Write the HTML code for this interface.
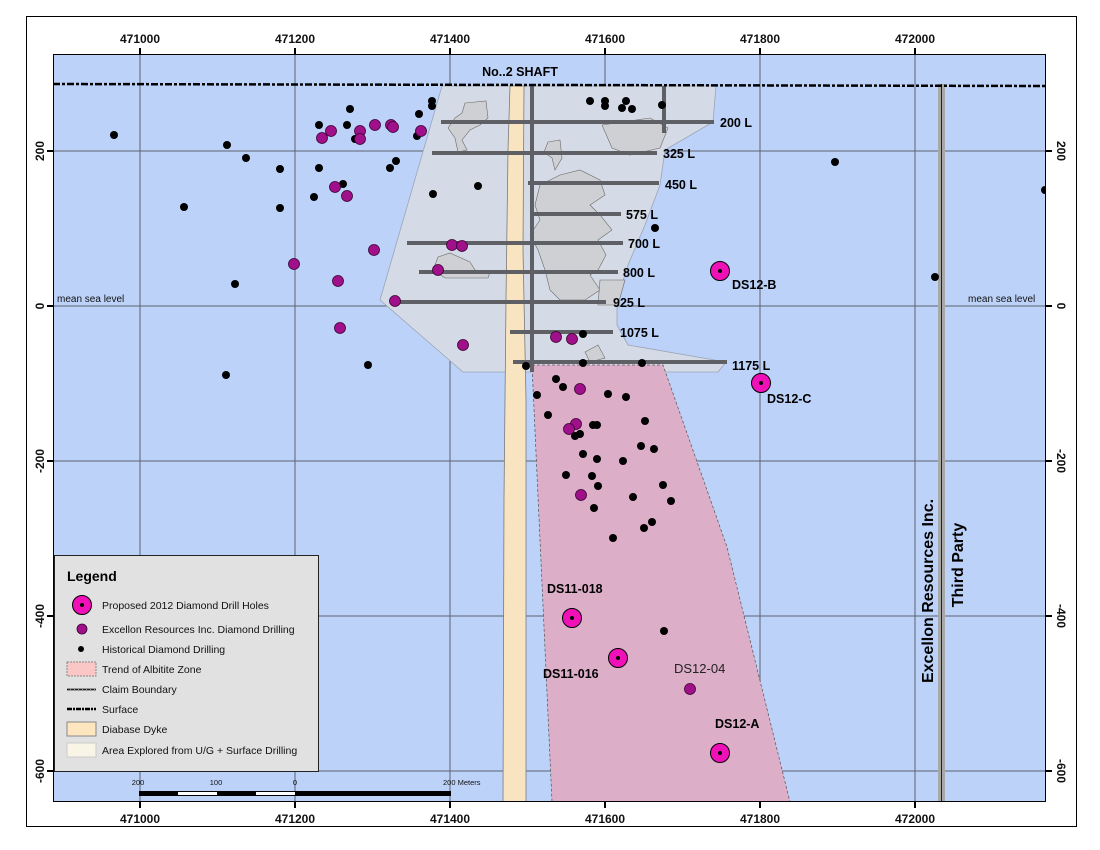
<!DOCTYPE html>
<html><head><meta charset="utf-8"><style>
html,body{margin:0;padding:0;background:#fff;}
svg{display:block;font-family:"Liberation Sans",sans-serif;}
</style></head><body>
<svg width="1100" height="850" viewBox="0 0 1100 850" xmlns="http://www.w3.org/2000/svg">
<rect x="0" y="0" width="1100" height="850" fill="#fff"/>
<rect x="26.5" y="16.5" width="1050" height="810" fill="#fff" stroke="#000" stroke-width="1"/>
<defs><clipPath id="c"><rect x="53" y="54" width="993" height="748"/></clipPath></defs>
<rect x="53" y="54" width="993" height="748" fill="#bdd2f8"/>
<g clip-path="url(#c)">
<g stroke="#5c6270" stroke-width="1">
<line x1="140" y1="54" x2="140" y2="802"/><line x1="295" y1="54" x2="295" y2="802"/>
<line x1="450" y1="54" x2="450" y2="802"/><line x1="605" y1="54" x2="605" y2="802"/>
<line x1="760" y1="54" x2="760" y2="802"/><line x1="915" y1="54" x2="915" y2="802"/>
<line x1="53" y1="151" x2="1046" y2="151"/><line x1="53" y1="306" x2="1046" y2="306"/>
<line x1="53" y1="461" x2="1046" y2="461"/><line x1="53" y1="616" x2="1046" y2="616"/>
<line x1="53" y1="771" x2="1046" y2="771"/>
</g>
<polygon points="442,86 716,86 713,122 665,150 660,185 645,225 628,265 617,300 617,325 628,345 726,362 718,372 463,372 380,300" fill="#d5dbe6" stroke="#9aa4b8" stroke-width="0.8"/>
<polygon points="532,365 663,365 727,547 790,802 552,802" fill="#dcaec8" stroke="#555" stroke-width="0.7" stroke-dasharray="3,2"/>
<g fill="#cfd0d3" stroke="#6a6a6a" stroke-width="0.6">
<polygon points="465,103 486,101 488,118 480,125 470,130 462,140 467,150 458,152 455,138 448,128 455,118 462,113"/>
<polygon points="548,142 560,140 562,158 555,170 552,158 544,152"/>
<polygon points="602,125 650,118 668,128 660,148 630,155 612,148"/>
<polygon points="540,185 560,175 580,170 600,180 605,195 590,205 600,215 612,230 598,240 606,255 598,270 590,275 600,290 585,300 560,300 550,290 545,270 538,250 530,235 540,220 535,205"/>
<polygon points="600,280 625,280 618,305 598,305"/>
<polygon points="438,257 450,253 470,262 475,270 490,272 488,278 445,278 433,270"/>
<polygon points="585,352 598,345 605,358 590,362"/>
</g>
<polygon points="510,86 524,86 523,250 526,400 526,802 503,802 504,500 506,300 508,150" fill="#f8e4c0" stroke="#7a7a7a" stroke-width="0.8"/>
<g stroke="#5e6066" stroke-width="4">
<line x1="441" y1="122" x2="714" y2="122"/><line x1="432" y1="153" x2="657" y2="153"/>
<line x1="528" y1="183" x2="659" y2="183"/><line x1="530" y1="214" x2="621" y2="214"/>
<line x1="407" y1="243" x2="623" y2="243"/><line x1="419" y1="272" x2="618" y2="272"/>
<line x1="398" y1="302" x2="606" y2="302"/><line x1="510" y1="332" x2="613" y2="332"/>
<line x1="513" y1="362" x2="727" y2="362"/>
<line x1="532" y1="86" x2="532" y2="372"/><line x1="664" y1="86" x2="664" y2="133"/>
</g>
<g font-weight="bold" font-size="12.5" fill="#000">
<text x="720" y="127">200 L</text><text x="663" y="158">325 L</text><text x="665" y="189">450 L</text>
<text x="626" y="219">575 L</text><text x="628" y="248">700 L</text><text x="623" y="277">800 L</text>
<text x="613" y="307">925 L</text><text x="620" y="337">1075 L</text><text x="732" y="370">1175 L</text>
</g>
<rect x="938" y="84" width="7" height="718" fill="#a8a8a8"/>
<line x1="941.5" y1="84" x2="941.5" y2="802" stroke="#222" stroke-width="1"/>
<line x1="53" y1="84" x2="1046" y2="86" stroke="#000" stroke-width="2.5" stroke-dasharray="7,2,3,2"/>
<g fill="#000">
<circle cx="114" cy="135" r="4"/><circle cx="227" cy="145" r="4"/><circle cx="246" cy="158" r="4"/><circle cx="280" cy="169" r="4"/><circle cx="319" cy="168" r="4"/><circle cx="184" cy="207" r="4"/><circle cx="280" cy="208" r="4"/><circle cx="235" cy="284" r="4"/><circle cx="350" cy="109" r="4"/><circle cx="319" cy="125" r="4"/><circle cx="347" cy="125" r="4"/><circle cx="355" cy="139" r="4"/><circle cx="432" cy="101" r="4"/><circle cx="432" cy="106" r="4"/><circle cx="419" cy="114" r="4"/><circle cx="417" cy="136" r="4"/><circle cx="396" cy="161" r="4"/><circle cx="390" cy="168" r="4"/><circle cx="314" cy="197" r="4"/><circle cx="343" cy="184" r="4"/><circle cx="433" cy="194" r="4"/><circle cx="226" cy="375" r="4"/><circle cx="368" cy="365" r="4"/><circle cx="478" cy="186" r="4"/><circle cx="835" cy="162" r="4"/><circle cx="935" cy="277" r="4"/><circle cx="1045" cy="190" r="4"/>
<circle cx="590" cy="101" r="4"/><circle cx="605" cy="101" r="4"/><circle cx="605" cy="106" r="4"/><circle cx="626" cy="101" r="4"/><circle cx="622" cy="108" r="4"/><circle cx="632" cy="109" r="4"/><circle cx="662" cy="105" r="4"/><circle cx="655" cy="228" r="4"/>
<circle cx="583" cy="334" r="4"/><circle cx="583" cy="363" r="4"/><circle cx="642" cy="363" r="4"/><circle cx="526" cy="366" r="4"/>
<circle cx="556" cy="379" r="4"/><circle cx="563" cy="387" r="4"/><circle cx="537" cy="395" r="4"/><circle cx="548" cy="415" r="4"/><circle cx="608" cy="394" r="4"/><circle cx="626" cy="397" r="4"/><circle cx="645" cy="421" r="4"/><circle cx="593" cy="425" r="4"/><circle cx="597" cy="425" r="4"/><circle cx="580" cy="434" r="4"/><circle cx="575" cy="436" r="4"/><circle cx="641" cy="446" r="4"/><circle cx="654" cy="449" r="4"/><circle cx="583" cy="454" r="4"/><circle cx="597" cy="459" r="4"/><circle cx="623" cy="461" r="4"/><circle cx="566" cy="475" r="4"/><circle cx="592" cy="476" r="4"/><circle cx="598" cy="486" r="4"/><circle cx="663" cy="485" r="4"/><circle cx="633" cy="497" r="4"/><circle cx="671" cy="501" r="4"/><circle cx="594" cy="508" r="4"/><circle cx="652" cy="522" r="4"/><circle cx="644" cy="528" r="4"/><circle cx="613" cy="538" r="4"/><circle cx="664" cy="631" r="4"/>
</g>
<g fill="#a0108a" stroke="#3a0030" stroke-width="0.8">
<circle cx="322" cy="138" r="5.5"/><circle cx="331" cy="131" r="5.5"/><circle cx="360" cy="131" r="5.5"/><circle cx="360" cy="139" r="5.5"/><circle cx="375" cy="125" r="5.5"/><circle cx="391" cy="125" r="5.5"/><circle cx="393" cy="127" r="5.5"/><circle cx="421" cy="131" r="5.5"/><circle cx="335" cy="187" r="5.5"/><circle cx="347" cy="196" r="5.5"/><circle cx="374" cy="250" r="5.5"/><circle cx="294" cy="264" r="5.5"/><circle cx="338" cy="281" r="5.5"/><circle cx="395" cy="301" r="5.5"/><circle cx="340" cy="328" r="5.5"/><circle cx="452" cy="245" r="5.5"/><circle cx="462" cy="246" r="5.5"/><circle cx="438" cy="270" r="5.5"/><circle cx="463" cy="345" r="5.5"/><circle cx="556" cy="337" r="5.5"/><circle cx="572" cy="339" r="5.5"/><circle cx="580" cy="389" r="5.5"/><circle cx="576" cy="424" r="5.5"/><circle cx="569" cy="429" r="5.5"/><circle cx="581" cy="495" r="5.5"/><circle cx="690" cy="689" r="5.5"/>
</g>
<g fill="#f010b8" stroke="#000" stroke-width="1"><circle cx="720" cy="271" r="9.5"/><circle cx="761" cy="383" r="9.5"/><circle cx="572" cy="618" r="9.5"/><circle cx="618" cy="658" r="9.5"/><circle cx="720" cy="753" r="9.5"/></g>
<g fill="#000"><circle cx="720" cy="271" r="2"/><circle cx="761" cy="383" r="2"/><circle cx="572" cy="618" r="2"/><circle cx="618" cy="658" r="2"/><circle cx="720" cy="753" r="2"/></g>
<g font-weight="bold" font-size="12.5" fill="#000">
<text x="732" y="289">DS12-B</text><text x="767" y="403">DS12-C</text><text x="547" y="593">DS11-018</text><text x="543" y="678">DS11-016</text><text x="715" y="728">DS12-A</text>
</g>
<text x="674" y="673" font-size="13" fill="#222">DS12-04</text>
<text x="520" y="76" font-size="12.5" font-weight="bold" text-anchor="middle">No..2 SHAFT</text>
<text x="57" y="302" font-size="10" fill="#111">mean sea level</text>
<text x="968" y="302" font-size="10" fill="#111">mean sea level</text>
<text transform="translate(933,591) rotate(-90)" font-size="16" font-weight="bold" text-anchor="middle">Excellon Resources Inc.</text>
<text transform="translate(963,565) rotate(-90)" font-size="16" font-weight="bold" text-anchor="middle">Third Party</text>
<rect x="54.5" y="555.5" width="264" height="216" fill="#e1e1e1" stroke="#222" stroke-width="1"/>
<text x="67" y="581" font-size="14" font-weight="bold">Legend</text>
<circle cx="82" cy="605" r="9.5" fill="#f010b8" stroke="#000"/><circle cx="82" cy="605" r="2" fill="#000"/>
<circle cx="82" cy="629" r="5" fill="#a0108a" stroke="#3a0030" stroke-width="0.8"/>
<circle cx="81" cy="649" r="3" fill="#000"/>
<rect x="67" y="662" width="29" height="14" fill="#fbc6c6" stroke="#888" stroke-dasharray="2,1"/>
<rect x="67" y="688" width="29" height="3" fill="#999"/><line x1="67" y1="689.5" x2="96" y2="689.5" stroke="#222" stroke-dasharray="3,1"/>
<line x1="67" y1="709" x2="96" y2="709" stroke="#000" stroke-width="2.5" stroke-dasharray="5,1,2,1"/>
<rect x="67" y="722" width="29" height="14" fill="#fde5c0" stroke="#888"/>
<rect x="67" y="743" width="29" height="14" fill="#f8f4e6" stroke="#ccc"/>
<g font-size="10.5" fill="#111">
<text x="102" y="609">Proposed 2012 Diamond Drill Holes</text>
<text x="102" y="633">Excellon Resources Inc. Diamond Drilling</text>
<text x="102" y="653">Historical Diamond Drilling</text>
<text x="102" y="673">Trend of Albitite Zone</text>
<text x="102" y="693">Claim Boundary</text>
<text x="102" y="713">Surface</text>
<text x="102" y="733">Diabase Dyke</text>
<text x="102" y="754">Area Explored from U/G + Surface Drilling</text>
</g>
<rect x="139" y="791" width="312" height="5" fill="#000"/>
<rect x="178" y="792" width="39" height="3" fill="#fff"/><rect x="256" y="792" width="39" height="3" fill="#fff"/>
<g font-size="7.5" fill="#111"><text x="138" y="785" text-anchor="middle">200</text><text x="216" y="785" text-anchor="middle">100</text><text x="295" y="785" text-anchor="middle">0</text><text x="443" y="785">200 Meters</text></g>
</g>
<rect x="53.5" y="54.5" width="992" height="747" fill="none" stroke="#000" stroke-width="1"/>
<g stroke="#000" stroke-width="2">
<line x1="140" y1="48" x2="140" y2="54"/><line x1="295" y1="48" x2="295" y2="54"/><line x1="450" y1="48" x2="450" y2="54"/><line x1="605" y1="48" x2="605" y2="54"/><line x1="760" y1="48" x2="760" y2="54"/><line x1="915" y1="48" x2="915" y2="54"/>
<line x1="140" y1="802" x2="140" y2="808"/><line x1="295" y1="802" x2="295" y2="808"/><line x1="450" y1="802" x2="450" y2="808"/><line x1="605" y1="802" x2="605" y2="808"/><line x1="760" y1="802" x2="760" y2="808"/><line x1="915" y1="802" x2="915" y2="808"/>
<line x1="47" y1="151" x2="53" y2="151"/><line x1="47" y1="306" x2="53" y2="306"/><line x1="47" y1="461" x2="53" y2="461"/><line x1="47" y1="616" x2="53" y2="616"/><line x1="47" y1="771" x2="53" y2="771"/>
<line x1="1046" y1="151" x2="1052" y2="151"/><line x1="1046" y1="306" x2="1052" y2="306"/><line x1="1046" y1="461" x2="1052" y2="461"/><line x1="1046" y1="616" x2="1052" y2="616"/><line x1="1046" y1="771" x2="1052" y2="771"/>
</g>
<g font-size="12" font-weight="bold" text-anchor="middle" fill="#111">
<text x="140" y="43">471000</text><text x="295" y="43">471200</text><text x="450" y="43">471400</text><text x="605" y="43">471600</text><text x="760" y="43">471800</text><text x="915" y="43">472000</text>
<text x="140" y="823">471000</text><text x="295" y="823">471200</text><text x="450" y="823">471400</text><text x="605" y="823">471600</text><text x="760" y="823">471800</text><text x="915" y="823">472000</text>
<text transform="translate(44,151) rotate(-90)">200</text><text transform="translate(44,306) rotate(-90)">0</text><text transform="translate(44,461) rotate(-90)">-200</text><text transform="translate(44,616) rotate(-90)">-400</text><text transform="translate(44,771) rotate(-90)">-600</text>
<text transform="translate(1057,151) rotate(90)">200</text><text transform="translate(1057,306) rotate(90)">0</text><text transform="translate(1057,461) rotate(90)">-200</text><text transform="translate(1057,616) rotate(90)">-400</text><text transform="translate(1057,771) rotate(90)">-600</text>
</g>
</svg>
</body></html>
